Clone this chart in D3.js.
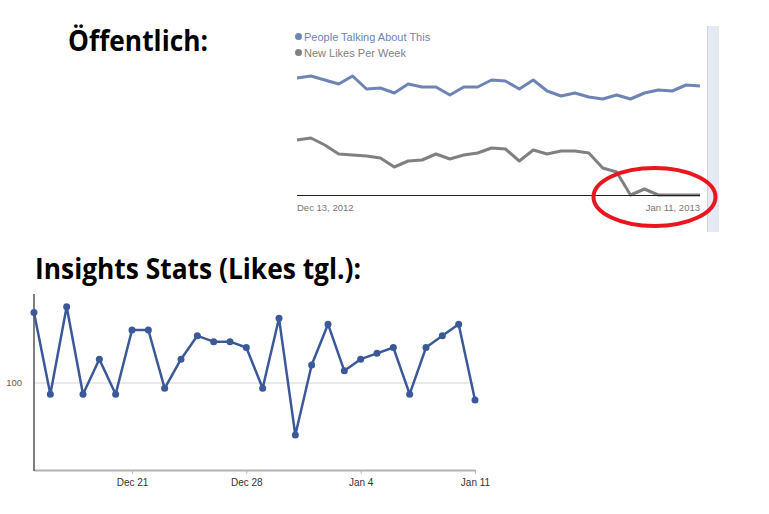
<!DOCTYPE html>
<html>
<head>
<meta charset="utf-8">
<script src="https://cdn.jsdelivr.net/npm/d3@7"></script>
<style>
  body { margin: 0; background: #fff; }
  svg { display: block; }
</style>
</head>
<body>
<div id="chart"></div>
<script>
// top chart (Facebook page overview), one value per day
const topStart = new Date(2012, 11, 13);
const talkingAbout = [117, 119, 115, 111, 119, 106, 107, 102, 111, 108, 108, 100, 108, 108, 115,
                      114, 106, 115, 104, 99, 102, 98, 96, 100, 96, 102, 105, 104, 110, 109];
const newLikes = [55, 57, 50, 41, 40, 39, 37, 28, 34, 35, 41, 36, 40, 42, 47,
                  46, 34, 45, 41, 44, 44, 42, 27, 23, 0, 6, 0, 0, 0, 0];
const topLegend = ["People Talking About This", "New Likes Per Week"];
const topTickLabels = ["Dec 13, 2012", "Jan 11, 2013"];

// bottom chart (Insights stats, likes per day)
const bottomStart = new Date(2012, 11, 15);
const dailyLikes = [112, 98, 113, 98, 104, 98, 109, 109, 99, 104, 108, 107, 107, 106,
                    99, 111, 91, 103, 110, 102, 104, 105, 106, 98, 106, 108, 110, 97];
const bottomTicks = [new Date(2012, 11, 21), new Date(2012, 11, 28), new Date(2013, 0, 4), new Date(2013, 0, 11)];
const bottomYTicks = [100];

const dayAfter = (start, i) => d3.timeDay.offset(start, i);

const svg = d3.select("#chart").append("svg")
    .attr("width", 769)
    .attr("height", 514);

const titleFont = "'Open Sans', 'Noto Sans', sans-serif";
const smallFont = "'Liberation Sans', Arial, sans-serif";

svg.append("text")
    .attr("x", 68)
    .attr("y", 51)
    .attr("font-family", titleFont)
    .attr("font-weight", 700)
    .attr("font-size", 29)
    .attr("textLength", 140)
    .attr("lengthAdjust", "spacingAndGlyphs")
    .attr("fill", "#000")
    .text("Öffentlich:");

svg.append("text")
    .attr("x", 35)
    .attr("y", 279)
    .attr("font-family", titleFont)
    .attr("font-weight", 700)
    .attr("font-size", 28)
    .attr("textLength", 326)
    .attr("lengthAdjust", "spacingAndGlyphs")
    .attr("fill", "#000")
    .text("Insights Stats (Likes tgl.):");

/* ---------- top chart ---------- */
const blue = "#6d84b4", grey = "#808080";

const xTop = d3.scaleTime()
    .domain([topStart, dayAfter(topStart, talkingAbout.length - 1)])
    .range([297, 700]);
const yTop = d3.scaleLinear()
    .domain([0, 130])
    .range([195, 65]);

// scroll panel on the right
svg.append("rect")
    .attr("x", 707).attr("y", 26)
    .attr("width", 12).attr("height", 206)
    .attr("fill", "#e5e9f2");
svg.append("line")
    .attr("x1", 707.5).attr("x2", 707.5)
    .attr("y1", 26).attr("y2", 232)
    .attr("stroke", "#cfd5e2");

const legend = svg.append("g").attr("font-family", smallFont).attr("font-size", 11);
[blue, grey].forEach((c, i) => {
    legend.append("circle")
        .attr("cx", 298.5).attr("cy", 36.5 + i * 16)
        .attr("r", 3.5)
        .attr("fill", c);
    legend.append("text")
        .attr("x", 304).attr("y", 40.5 + i * 16)
        .attr("fill", c)
        .text(topLegend[i]);
});

const topLine = d3.line()
    .x((d, i) => xTop(dayAfter(topStart, i)))
    .y(d => yTop(d));

svg.append("path")
    .datum(talkingAbout)
    .attr("fill", "none")
    .attr("stroke", blue)
    .attr("stroke-width", 3)
    .attr("stroke-linejoin", "round")
    .attr("d", topLine);

svg.append("path")
    .datum(newLikes)
    .attr("fill", "none")
    .attr("stroke", grey)
    .attr("stroke-width", 3)
    .attr("stroke-linejoin", "round")
    .attr("d", topLine);

// baseline
svg.append("line")
    .attr("x1", 297).attr("x2", 700)
    .attr("y1", yTop(0) + 0.5).attr("y2", yTop(0) + 0.5)
    .attr("stroke", "#222")
    .attr("stroke-width", 1);

svg.append("g")
    .attr("font-family", smallFont)
    .attr("font-size", 9.5)
    .attr("fill", "#777")
    .selectAll("text")
    .data(xTop.domain())
    .enter()
    .append("text")
    .attr("x", d => xTop(d))
    .attr("y", 210.5)
    .attr("text-anchor", (d, i) => i === 0 ? "start" : "end")
    .text((d, i) => topTickLabels[i]);

// red marker around the drop
svg.append("ellipse")
    .attr("cx", 654.5).attr("cy", 197)
    .attr("rx", 61).attr("ry", 29)
    .attr("fill", "none")
    .attr("stroke", "#e8161f")
    .attr("stroke-width", 4);

/* ---------- bottom chart ---------- */
const navy = "#3b5998";

const xBot = d3.scaleTime()
    .domain([bottomStart, dayAfter(bottomStart, dailyLikes.length - 1)])
    .range([34, 475]);
const yBot = d3.scaleLinear()
    .domain([85, 115])
    .range([470, 295]);

// grid line
svg.append("g")
    .selectAll("line")
    .data(bottomYTicks)
    .enter()
    .append("line")
    .attr("x1", 34).attr("x2", 475)
    .attr("y1", d => yBot(d) + 0.5).attr("y2", d => yBot(d) + 0.5)
    .attr("stroke", "#d4d4d4");

svg.append("g")
    .attr("font-family", smallFont)
    .attr("font-size", 9.5)
    .attr("fill", "#7a5544")
    .selectAll("text")
    .data(bottomYTicks)
    .enter()
    .append("text")
    .attr("x", 22).attr("y", d => yBot(d) + 3.5)
    .attr("text-anchor", "end")
    .text(d => d);

// x axis
const xAxis = svg.append("g")
    .attr("transform", "translate(0,470)")
    .call(d3.axisBottom(xBot).tickValues(bottomTicks).tickFormat(d3.timeFormat("%b %-d")).tickSize(4).tickSizeOuter(0));
xAxis.select(".domain").remove();
xAxis.selectAll(".tick line").attr("stroke", "#bbb");
xAxis.selectAll(".tick text")
    .attr("fill", "#333")
    .attr("dy", "0.9em")
    .style("font-family", smallFont)
    .style("font-size", "10px");
svg.append("line")
    .attr("x1", 34).attr("x2", 476)
    .attr("y1", 470.5).attr("y2", 470.5)
    .attr("stroke", "#b3b3b3")
    .attr("stroke-width", 2);

// y axis line
svg.append("line")
    .attr("x1", 34).attr("x2", 34)
    .attr("y1", 294).attr("y2", 471)
    .attr("stroke", "#555")
    .attr("stroke-width", 1.5);

svg.append("path")
    .datum(dailyLikes)
    .attr("fill", "none")
    .attr("stroke", navy)
    .attr("stroke-width", 2.5)
    .attr("stroke-linejoin", "round")
    .attr("d", d3.line()
        .x((d, i) => xBot(dayAfter(bottomStart, i)))
        .y(d => yBot(d)));

svg.append("g")
    .selectAll("circle")
    .data(dailyLikes)
    .enter()
    .append("circle")
    .attr("cx", (d, i) => xBot(dayAfter(bottomStart, i)))
    .attr("cy", d => yBot(d))
    .attr("r", 3.5)
    .attr("fill", navy);
</script>
</body>
</html>
